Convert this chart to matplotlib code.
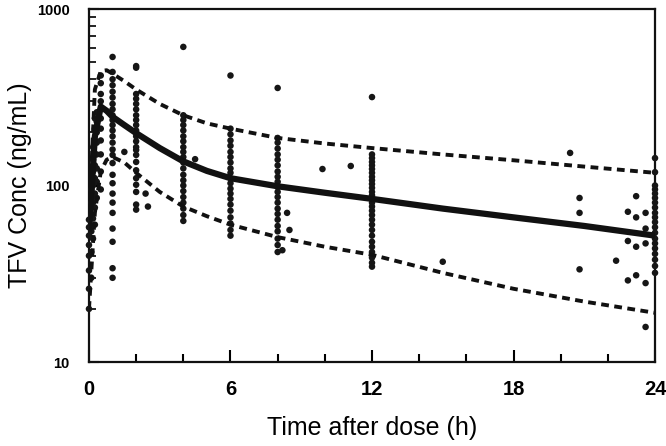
import numpy as np
import matplotlib
matplotlib.use("Agg")
import matplotlib.pyplot as plt
from matplotlib.ticker import FixedLocator, NullFormatter, LogLocator

plt.rcParams['font.family'] = ['Liberation Sans', 'DejaVu Sans']

# ==========================================================
# Observed TFV concentrations (time h, conc ng/mL)
# ==========================================================
obs_t0 = [0.0] * 8 + [0.1] * 6 + [0.17] * 7 + [0.25] * 9 + [0.33] * 8 + [0.5] * 11
obs_c0 = [20, 26, 33, 40, 46, 52, 58, 64,
          30, 42, 55, 68, 80, 95,
          50, 65, 80, 100, 120, 140, 165,
          60, 75, 90, 110, 130, 150, 180, 210, 240,
          85, 105, 125, 150, 175, 200, 230, 260,
          95, 120, 150, 180, 210, 240, 270, 300, 330, 380, 420]

obs_c1 = [535, 440, 400, 370, 340, 315, 290, 270, 250, 235, 220, 205, 190,
          175, 160, 149, 134, 115, 103, 90, 80, 70, 57, 48, 34, 30]
obs_c2 = [475, 465, 330, 310, 290, 270, 250, 235, 220, 205, 190, 178, 165,
          159, 149, 136, 122, 110, 101, 92, 78, 73]
obs_c4 = [610, 250, 235, 220, 205, 190, 178, 165, 155, 145, 135, 125, 115,
          107, 100, 93, 86, 80, 74, 68, 63]
obs_c6 = [420, 210, 195, 180, 168, 155, 145, 135, 125, 118, 110, 103, 96,
          90, 84, 78, 72, 66, 61, 56, 52]
obs_c8 = [357, 186, 175, 162, 150, 140, 130, 120, 112, 105, 98, 92, 86, 80,
          74, 69, 64, 59, 55, 50, 46, 42]
obs_c12 = [317, 150, 143, 136, 130, 124, 118, 112, 107, 102, 97, 92, 88, 84,
           80, 76, 72, 68, 64, 60, 56, 52, 48, 45, 42, 39, 36.5, 34.7]
obs_c24 = [143, 119, 100, 95, 90, 85, 80, 75, 70, 66, 62, 58, 54, 50, 47,
           44, 41, 38, 35, 32]

# off-schedule samples
extra_t = [1.5, 2.4, 2.5, 4.5, 8.2, 8.4, 8.5, 9.9, 11.1, 15.0, 20.4, 20.8, 20.8, 20.8,
           22.35, 22.85, 22.85, 22.85, 23.2, 23.2, 23.2, 23.2,
           23.6, 23.6, 23.6, 23.6, 23.6]
extra_c = [155, 90, 76, 141, 43, 70, 56, 124, 129, 37, 153, 85, 70, 33.5,
           37.5, 48.5, 29, 71, 87, 66, 45, 31,
           70, 57, 47, 28, 15.8]

# ==========================================================
# Model prediction: median, 5th and 95th percentiles
# ==========================================================
pred_t = [0, 0.25, 0.5, 0.75, 1, 1.5, 2, 3, 4, 5, 6, 8, 10, 12, 15, 18, 21, 24]
pred_med = [55, 190, 280, 265, 245, 220, 198, 163, 137, 121, 110, 99, 91, 84, 74, 66, 59, 52]
pred_p95 = [60, 350, 445, 450, 430, 390, 350, 290, 250, 225, 210, 186, 173, 163, 150, 139, 128, 118]
pred_p05 = [20, 70, 120, 140, 145, 135, 118, 92, 76, 67, 60, 51, 45, 40.5, 32, 26, 22, 19]

groups = [(1, obs_c1), (2, obs_c2), (4, obs_c4), (6, obs_c6),
          (8, obs_c8), (12, obs_c12), (24, obs_c24)]
all_t = list(obs_t0) + list(extra_t)
all_c = list(obs_c0) + list(extra_c)
for t, cs in groups:
    all_t += [t] * len(cs)
    all_c += cs

# ==========================================================
# PLOT
# ==========================================================
fig = plt.figure(figsize=(6.66, 4.46), dpi=100)
ax = fig.add_axes([0.1336, 0.1883, 0.8499, 0.7915])

ax.scatter(all_t, all_c, s=22, color='#161616', edgecolors='none', zorder=3, clip_on=False)
ax.plot(pred_t, pred_med, color='#111111', lw=4.5, solid_capstyle='butt', zorder=4)
ax.plot(pred_t, pred_p95, color='#111111', lw=2.8, ls=(0, (2.0, 1.4)), zorder=4)
ax.plot(pred_t, pred_p05, color='#111111', lw=2.8, ls=(0, (2.0, 1.4)), zorder=4)

ax.set_yscale('log')
ax.set_xlim(0, 24)
ax.set_ylim(10, 1000)

ax.set_xticks([0, 6, 12, 18, 24])
ax.xaxis.set_minor_locator(FixedLocator([2, 4, 8, 10, 14, 16, 20, 22]))
ax.set_yticks([10, 100, 1000])
ax.set_yticklabels(['10', '100', '1000'])
ax.yaxis.set_minor_locator(LogLocator(base=10, subs=np.arange(2, 10)))
ax.yaxis.set_minor_formatter(NullFormatter())

for s in ax.spines.values():
    s.set_linewidth(1.6)
    s.set_color('#111111')

ax.tick_params(axis='x', which='major', direction='in', length=9, width=1.5, pad=13,
               labelsize=14.5)
ax.tick_params(axis='x', which='minor', direction='in', length=6, width=1.5)
ax.tick_params(axis='y', which='major', direction='in', length=7, width=1.5, pad=14,
               labelsize=10.5)
ax.tick_params(axis='y', which='minor', direction='in', length=5, width=1.2)
for lab in ax.get_xticklabels() + ax.get_yticklabels():
    lab.set_fontweight('bold')

ax.set_xlabel('Time after dose (h)', fontsize=18, va='center')
ax.set_ylabel('TFV Conc (ng/mL)', fontsize=18, va='center')
ax.xaxis.set_label_coords(0.5, -0.187)
ax.yaxis.set_label_coords(-0.121, 0.5)

fig.savefig('out.png', dpi=100)
